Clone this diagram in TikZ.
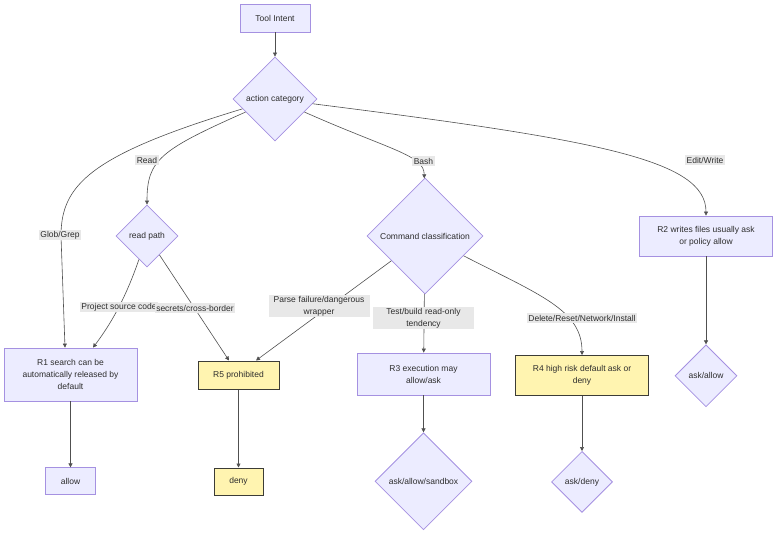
\documentclass[tikz,border=0pt]{standalone}
\usepackage{fontspec}
\setmainfont{Liberation Sans}
\usepackage{tikz}
\usetikzlibrary{arrows.meta,positioning,shapes.geometric}
\definecolor{boxFill}{RGB}{236,236,255}
\definecolor{boxLine}{RGB}{165,145,225}
\definecolor{warnFill}{RGB}{255,244,176}
\definecolor{warnLine}{RGB}{60,60,55}
\definecolor{edgeGray}{RGB}{80,80,80}
\definecolor{labelBg}{RGB}{232,232,232}
\definecolor{textGray}{RGB}{45,45,45}

\begin{document}
\begin{tikzpicture}[x=1pt,y=-1pt,
    font=\fontsize{8.5}{12}\selectfont,text=textGray,
    box/.style={draw=boxLine,fill=boxFill,line width=0.8pt,align=center,inner sep=0pt},
    warn/.style={draw=warnLine,fill=warnFill,line width=1pt,align=center,inner sep=0pt},
    choice/.style={diamond,draw=boxLine,fill=boxFill,line width=0.8pt,align=center,inner sep=0pt},
    lbl/.style={fill=labelBg,inner sep=1.5pt,align=center},
    arrow/.style={-{Triangle[length=4pt,width=4pt]},line width=0.6pt,draw=edgeGray}
  ]
    \useasboundingbox (0,0) rectangle (784,540);

    % decision chain
    \node[box,minimum width=70pt,minimum height=28pt] (intent) at (275,18) {Tool Intent};
    \node[choice,minimum width=84pt,minimum height=84pt] (cat) at (275,99) {action category};
    \node[choice,minimum width=62pt,minimum height=62pt] (rpath) at (147,236) {read path};
    \node[choice,minimum width=116pt,minimum height=116pt] (cmd) at (425,236) {Command classification};

    % rules
    \node[box,minimum width=133pt,minimum height=53pt] (r1) at (70.5,374.5) {R1 search can be\\automatically released by\\default};
    \node[box,minimum width=133pt,minimum height=40pt] (r2) at (706,236) {R2 writes files usually ask\\or policy allow};
    \node[box,minimum width=133pt,minimum height=42pt] (r3) at (423.5,374) {R3 execution may\\allow/ask};
    \node[warn,minimum width=133pt,minimum height=40pt] (r4) at (582,375.5) {R4 high risk default ask or\\deny};
    \node[warn,minimum width=81pt,minimum height=28pt] (r5) at (238.5,375) {R5 prohibited};

    % outcomes
    \node[box,minimum width=50pt,minimum height=27pt,below=66pt of r1] (allow) {allow};
    \node[warn,minimum width=49pt,minimum height=27pt,below=78pt of r5] (deny) {deny};
    \node[choice,minimum width=97pt,minimum height=97pt,below=37pt of r3] (sandbox) {ask/allow/sandbox};
    \node[choice,minimum width=61pt,minimum height=61pt,below=55pt of r4] (askdeny) {ask/deny};
    \node[choice,minimum width=62pt,minimum height=62pt,below=88pt of r2] (askallow) {ask/allow};

    \draw[arrow] (intent) -- (cat);
    \draw[arrow] (cat) .. controls (90,155) and (61,185) .. (61,236) -- ([xshift=-5.5pt]r1.north);
    \draw[arrow] (cat) .. controls (160,150) and (147,160) .. (rpath);
    \draw[arrow] (cat) .. controls (390,150) and (424,155) .. (cmd);
    \draw[arrow] (cat) .. controls (600,140) and (706,160) .. (r2);
    \draw[arrow] (rpath) .. controls (125,300) and (110,325) .. ([xshift=22.5pt]r1.north);
    \draw[arrow] (rpath) -- ([xshift=-9.5pt]r5.north);
    \draw[arrow] (cmd) -- ([xshift=17.5pt]r5.north);
    \draw[arrow] (cmd) -- (r3);
    \draw[arrow] (cmd) .. controls (540,295) and (582,310) .. (r4);
    \draw[arrow] (r1) -- (allow);
    \draw[arrow] (r5) -- (deny);
    \draw[arrow] (r3) -- (sandbox);
    \draw[arrow] (r4) -- (askdeny);
    \draw[arrow] (r2) -- (askallow);

    % edge labels
    \node[lbl] (lglob) at (60,235) {Glob/Grep};
    \node[lbl] (lread) at (147,160) {Read};
    \node[lbl] (lbash) at (423.5,161) {Bash};
    \node[lbl] (ledit) at (705,160) {Edit/Write};
    \node[lbl] (lsrc) at (119,307) {Project source code};
    \node[lbl] (lsec) at (195,308) {secrets/cross-border};
    \node[lbl,text width=98pt] (lparse) at (319,306) {Parse failure/dangerous\\wrapper};
    \node[lbl,text width=98pt] (ltest) at (423.5,318) {Test/build read-only\\tendency};
    \node[lbl] (ldel) at (582,318) {Delete/Reset/Network/Install};
  \end{tikzpicture}
\end{document}
